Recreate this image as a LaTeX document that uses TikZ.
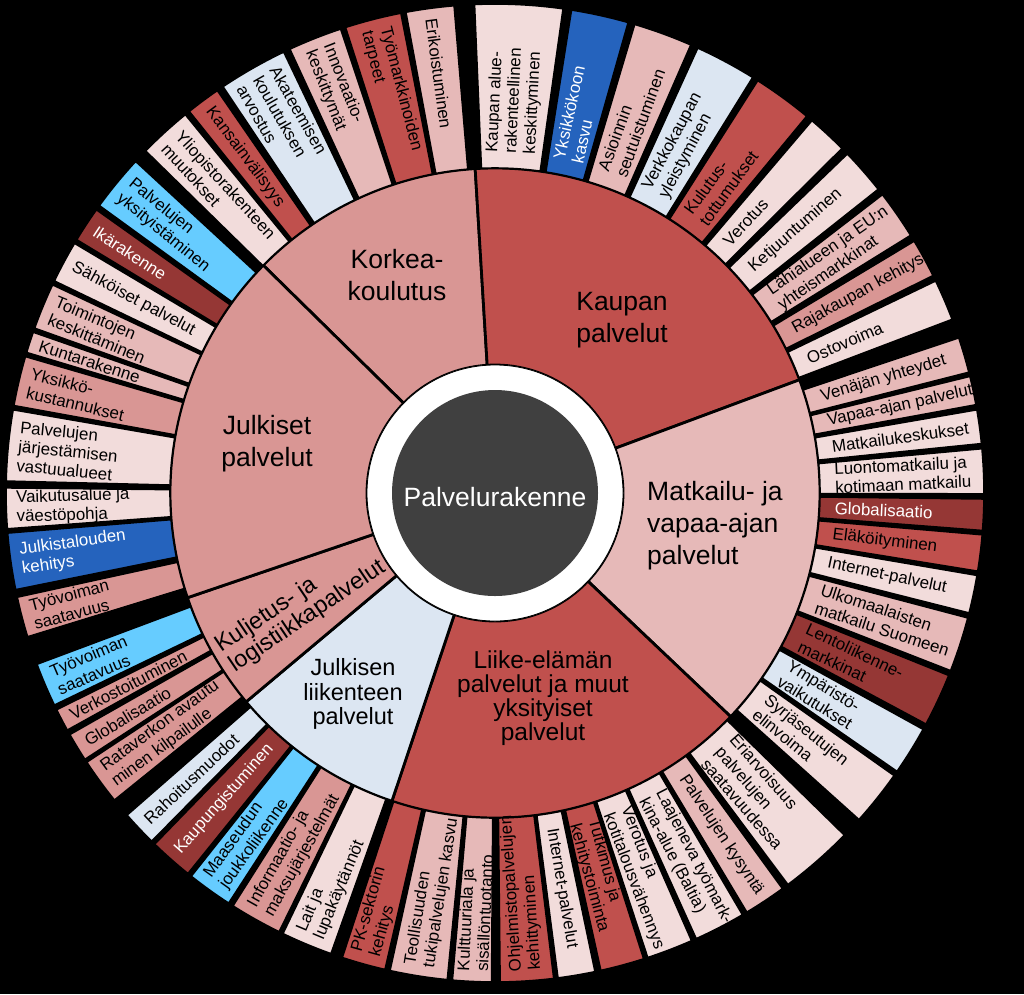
\documentclass[tikz,border=0pt]{standalone}
\usepackage{fontspec}
\setmainfont{Liberation Sans}
\definecolor{lp}{HTML}{F2DCDB}
\definecolor{mp}{HTML}{E6B9B8}
\definecolor{pk}{HTML}{D99694}
\definecolor{rd}{HTML}{C0504D}
\definecolor{dr}{HTML}{953735}
\definecolor{lb}{HTML}{DCE6F2}
\definecolor{sb}{HTML}{66CCFF}
\definecolor{db}{HTML}{2563BD}
\definecolor{dg}{HTML}{404040}
\begin{document}
\begin{tikzpicture}[x=1pt,y=1pt,
  leaflabel/.style={font=\fontsize{16.9}{19}\selectfont, align=left, inner sep=0pt},
  midlabel/.style={font=\fontsize{26.5}{32}\selectfont, align=center, inner sep=0pt},
  leafbox/.style={draw=black, line width=1.6pt},
  sectorbox/.style={draw=black, line width=2.8pt}]
\fill[black] (0,0) rectangle (1024,-994);
\useasboundingbox (0,0) rectangle (1024,-994);
\begin{scope}[shift={(495,-493)}]
% middle ring sectors
\foreach \a/\b/\f in {314.5/356.5/pk, -3.5/69.6/rd, 69.6/133.5/mp, 133.5/198.5/rd, 198.5/230/lb, 230/251.2/pk, 251.2/314.5/pk}{
  \pgfmathsetmacro\sa{90-\a}
  \pgfmathsetmacro\ea{90-\b}
  \path[sectorbox, fill=\f] (\sa:128) arc[start angle=\sa, end angle=\ea, radius=128] -- (\ea:325) arc[start angle=\ea, end angle=\sa, radius=325] -- cycle;
}
% outer ring leaves
\foreach \a/\b/\f/\tc/\s [count=\i] in {
 -2.4/8.0/lp/black/{Kaupan alue-\\rakenteellinen\\keskittyminen},
 9.0/15.8/db/white/{Yksikkökoon\\kasvu},
 16.6/23.6/mp/black/{Asioinnin\\seutuistuminen},
 24.5/31.8/lb/black/{Verkkokaupan\\yleistyminen},
 32.5/39.6/rd/black/{Kulutus-\\tottumukset},
 40.4/45.2/lp/black/{Verotus},
 46.1/51.6/lp/black/{Ketjuuntuminen},
 52.4/58.2/mp/black/{Lähialueen ja EU:n\\yhteismarkkinat},
 59.0/63.6/pk/black/{Rajakaupan kehitys},
 64.3/69.2/lp/black/{Ostovoima},
 71.5/75.7/mp/black/{Venäjän yhteydet},
 76.2/79.6/mp/black/{Vapaa-ajan palvelut},
 80.2/84.2/lp/black/{Matkailukeskukset},
 84.8/90.1/lp/black/{Luontomatkailu ja\\kotimaan matkailu},
 90.7/94.4/dr/white/{Globalisaatio},
 94.9/99.2/rd/black/{Eläköityminen},
 99.7/104.2/lp/black/{Internet-palvelut},
 104.8/111.3/mp/black/{Ulkomaalaisten\\matkailu Suomeen},
 111.9/118.2/dr/black/{Lentoliikenne-\\markkinat},
 118.9/124.7/lb/black/{Ympäristö-\\vaikutukset},
 125.3/131.9/lp/black/{Syrjäseutujen\\elinvoima},
 134.4/143.2/lp/black/{Eriarvoisuus\\palvelujen\\saatavuudessa},
 144.0/149.0/mp/black/{Palvelujen kysyntä},
 149.6/155.7/lp/black/{Laajeneva työmark-\\kina-alue (Baltia)},
 156.3/161.8/lp/black/{Verotus ja\\kotitalousvähennys},
 162.3/167.5/rd/black/{Tutkimus ja\\kehitystoiminta},
 168.2/172.6/lp/black/{Internet-palvelut},
 173.1/179.4/rd/black/{Ohjelmistopalvelujen\\kehittyminen},
 180.4/185.0/mp/black/{Kulttuuriala ja\\sisällöntuotanto},
 185.6/192.4/mp/black/{Teollisuuden\\tukipalvelujen kasvu},
 193.0/198.2/rd/black/{PK-sektorin\\kehitys},
 199.6/205.7/lp/black/{Lait ja\\lupakäytännöt},
 206.2/212.4/pk/black/{Informaatio- ja\\maksujärjestelmät},
 213.0/218.4/sb/black/{Maaseudun\\joukkoliikenne},
 218.9/224.1/dr/white/{Kaupungistuminen},
 224.6/228.8/lb/black/{Rahoitusmuodot},
 231.1/236.6/pk/black/{Rataverkon avautu\\minen kilpailulle},
 237.0/240.4/pk/black/{Globalisaatio},
 241.0/243.7/pk/black/{Verkostoituminen},
 244.3/249.5/sb/black/{Työvoiman\\saatavuus},
 252.9/257.7/pk/black/{Työvoiman\\saatavuus},
 258.6/265.3/db/white/{Julkistalouden\\kehitys},
 265.8/270.6/lp/black/{Vaikutusalue ja\\väestöpohja},
 271.4/279.8/lp/black/{Palvelujen\\järjestämisen\\vastuualueet},
 280.3/286.2/pk/black/{Yksikkö-\\kustannukset},
 286.7/289.2/mp/black/{Kuntarakenne},
 289.7/295.2/mp/black/{Toimintojen\\keskittäminen},
 295.7/300.7/lp/black/{Sähköiset palvelut},
 301.2/305.4/dr/white/{Ikärakenne},
 306.0/312.7/sb/black/{Palvelujen\\yksityistäminen},
 314.4/320.7/lp/black/{Yliopistorakenteen\\muutokset},
 321.3/325.4/rd/black/{Kansainvälisyys},
 326.2/334.4/lb/black/{Akateemisen\\koulutuksen\\arvostus},
 335.2/341.6/mp/black/{Innovaatio-\\keskittymät},
 342.2/348.9/rd/black/{Työmarkkinoiden\\tarpeet},
 349.5/355.2/mp/black/{Erikoistuminen}}{
  \pgfmathsetmacro\sa{90-\a}
  \pgfmathsetmacro\ea{90-\b}
  \pgfmathsetmacro\m{(\a+\b)/2}
  \pgfmathsetmacro\rot{(\m<172.9) ? (90-\m) : (270-\m)}
  \pgfmathsetmacro\rr{(\m<172.9) ? 340 : 479}
  \path[leafbox, fill=\f] (\sa:325) arc[start angle=\sa, end angle=\ea, radius=325] -- (\ea:489) arc[start angle=\ea, end angle=\sa, radius=489] -- cycle;
  \node[leaflabel, text=\tc, rotate=\rot, anchor=west] (leaf\i) at (90-\m:\rr) {\s};
}
% centre
\draw[fill=white, line width=0.8pt] (0,0) circle[radius=128];
\fill[dg] (0,0) circle[radius=103];
\end{scope}
% middle labels
\node[midlabel] (korkea) at (397,-275) {Korkea-\\koulutus};
\node[midlabel] (kaupan) at (622,-320) {Kaupan\\palvelut};
\node[midlabel, align=left, anchor=west] (matkailu) at (647,-526) {Matkailu- ja\\vapaa-ajan\\palvelut};
\node[midlabel, font=\fontsize{24.5}{24}\selectfont] (liike) at (543,-698) {Liike-elämän\\palvelut ja muut\\yksityiset\\palvelut};
\node[midlabel, font=\fontsize{23.5}{24.5}\selectfont] (julkliik) at (353,-694) {Julkisen\\liikenteen\\palvelut};
\node[midlabel] (julkiset) at (267,-444) {Julkiset\\palvelut};
\node[midlabel, font=\fontsize{23.5}{24}\selectfont, align=left, anchor=west, rotate=34] (kuljetus) at (225,-658) {Kuljetus- ja\\logistiikkapalvelut};
\node[midlabel, text=white] (root) at (495,-497) {Palvelurakenne};
\end{tikzpicture}
\end{document}
